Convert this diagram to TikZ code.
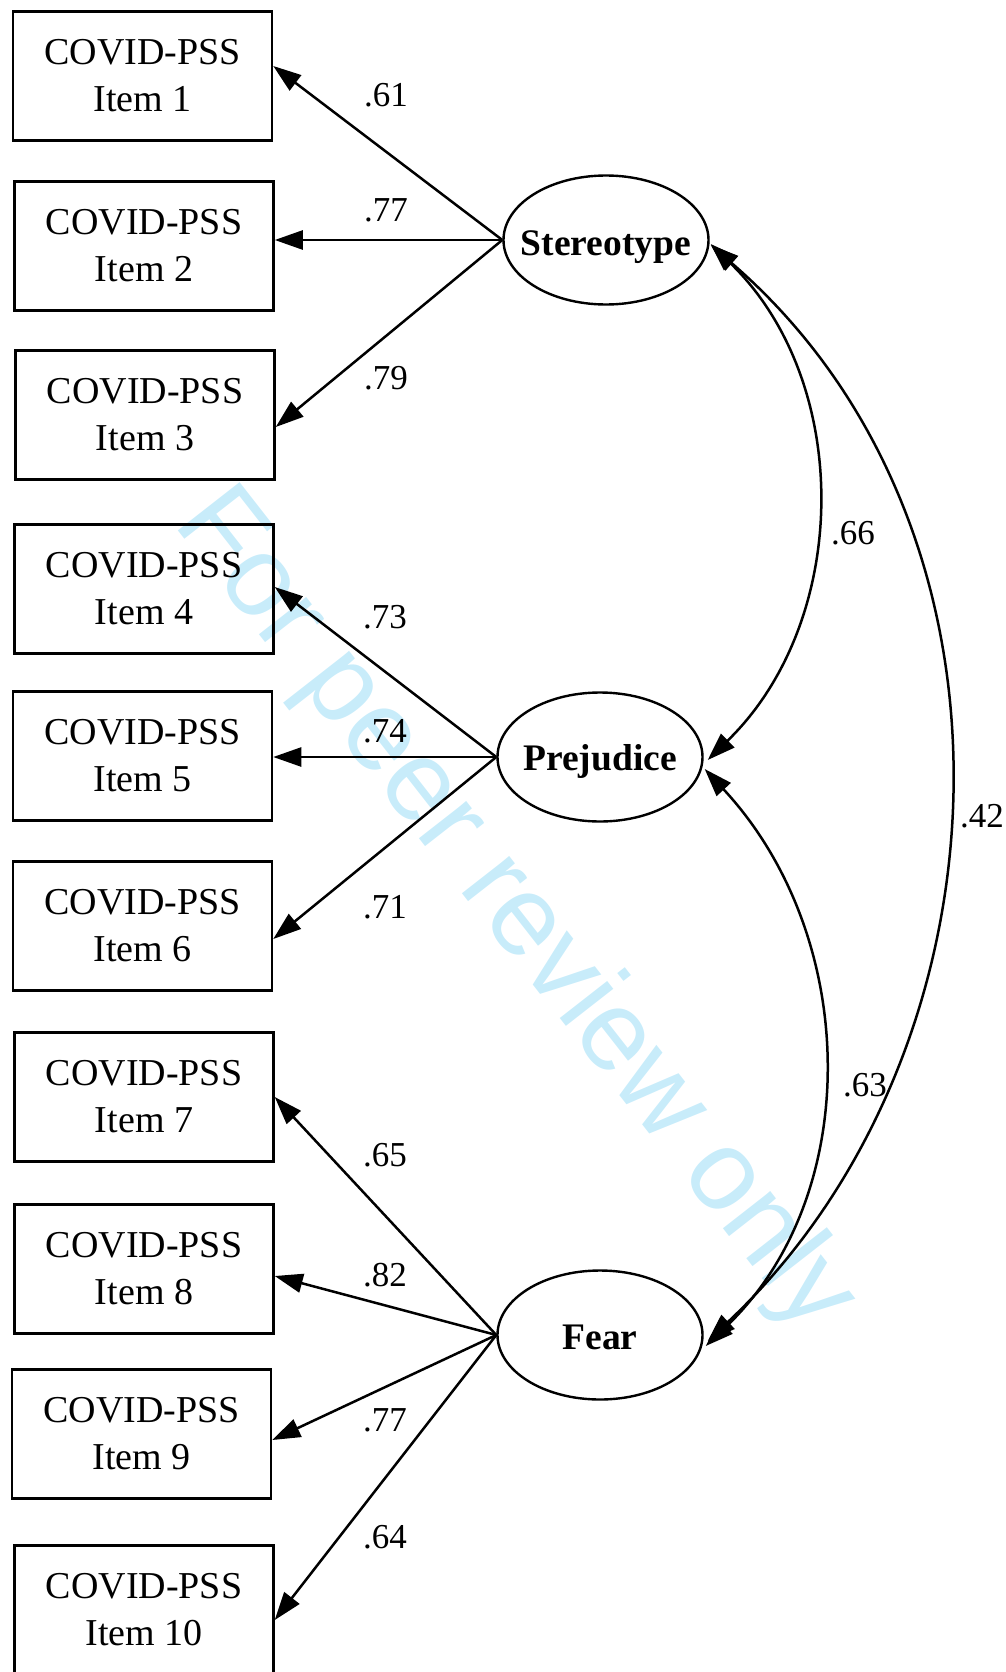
\documentclass[tikz,border=0pt]{standalone}
\usepackage{fontspec}
\setmainfont{Liberation Serif}
\newfontfamily\wmfont{Liberation Sans}
\usetikzlibrary{arrows.meta,calc,shapes.geometric}
\definecolor{wmblue}{RGB}{200,236,250}
\begin{document}
\begin{tikzpicture}[x=1pt,y=-1pt,
  itembox/.style={draw, line width=2.5pt, rectangle, minimum width=259pt, minimum height=129pt, inner sep=0pt, align=center, font=\fontsize{38}{47}\selectfont},
  latent/.style={draw, line width=2.4pt, ellipse, minimum width=205pt, minimum height=129pt, inner sep=0pt},
  lattext/.style={anchor=base, inner sep=0pt, font=\fontsize{37.5}{44}\selectfont\bfseries},
  loadarrow/.style={line width=2.5pt, -{Triangle[length=28pt,width=19pt]}},
  cov/.style={line width=2.5pt, {Triangle[length=28pt,width=19pt]}-{Triangle[length=28pt,width=19pt]}},
  lbl/.style={inner sep=0pt, font=\fontsize{35}{40}\selectfont},
]
\useasboundingbox (0,0) rectangle (1005,1672);
% watermark
\node[rotate=-52, text=wmblue, inner sep=0pt, font=\wmfont\fontsize{114}{114}\selectfont] (wm) at (514,912) {For peer review only};

% observed items
\node[itembox] (i1) at (142.5,76) {COVID-PSS\\Item 1};
\node[itembox] (i2) at (144,246) {COVID-PSS\\Item 2};
\node[itembox] (i3) at (145,415) {COVID-PSS\\Item 3};
\node[itembox] (i4) at (144,589) {COVID-PSS\\Item 4};
\node[itembox] (i5) at (142.5,756) {COVID-PSS\\Item 5};
\node[itembox] (i6) at (142.5,926) {COVID-PSS\\Item 6};
\node[itembox] (i7) at (144,1097) {COVID-PSS\\Item 7};
\node[itembox] (i8) at (144,1269) {COVID-PSS\\Item 8};
\node[itembox] (i9) at (141.5,1434) {COVID-PSS\\Item 9};
\node[itembox] (i10) at (144,1610) {COVID-PSS\\Item 10};

% latent variables
\node[latent] (st) at (606,240) {};
\node[lattext] (stT) at ($(st.center)+(0,15)$) {Stereotype};
\node[latent] (pr) at (600,757) {};
\node[lattext] (prT) at ($(pr.center)+(0,13)$) {Prejudice};
\node[latent] (fe) at (600,1335) {};
\node[lattext] (feT) at ($(fe.center)+(0,14)$) {Fear};

% loadings
\draw[loadarrow] (st.west) -- ($(i1.east)+(0,-10)$);
\draw[loadarrow] (st.west) -- (i2.east |- st.west);
\draw[loadarrow] (st.west) -- ($(i3.east)+(0,12)$);
\draw[loadarrow] (pr.west) -- ($(i4.east)+(0,-2)$);
\draw[loadarrow] (pr.west) -- (i5.east |- pr.west);
\draw[loadarrow] (pr.west) -- ($(i6.east)+(0,13)$);
\draw[loadarrow] (fe.west) -- (i7.east);
\draw[loadarrow] (fe.west) -- ($(i8.east)+(0,7)$);
\draw[loadarrow] (fe.west) -- ($(i9.east)+(0,6)$);
\draw[loadarrow] (fe.west) -- ($(i10.east)+(0,10)$);

% covariances
\draw[cov] ($(st.east)+(1,4)$) .. controls +(143,139) and +(143,-139) .. ($(pr.east)+(4,3)$);
\draw[cov] ($(pr.east)+(1,12)$) .. controls +(156,168) and +(158,-150) .. ($(fe.east)+(2,11)$);
\draw[cov] ($(st.east)+(1,5)$) .. controls +(330,285) and +(308,-290) .. ($(fe.east)+(4,6)$);

% labels
\node[lbl] (l1) at (386,95) {.61};
\node[lbl] (l2) at (386,210) {.77};
\node[lbl] (l3) at (386,378) {.79};
\node[lbl] (l4) at (385,617) {.73};
\node[lbl] (l5) at (385,731) {.74};
\node[lbl] (l6) at (385,907) {.71};
\node[lbl] (l7) at (385,1155) {.65};
\node[lbl] (l8) at (385,1275) {.82};
\node[lbl] (l9) at (385,1420) {.77};
\node[lbl] (l10) at (385,1537) {.64};
\node[lbl] (l11) at (853,533) {.66};
\node[lbl] (l12) at (865,1085) {.63};
\node[lbl] (l13) at (982,816) {.42};
\end{tikzpicture}
\end{document}
